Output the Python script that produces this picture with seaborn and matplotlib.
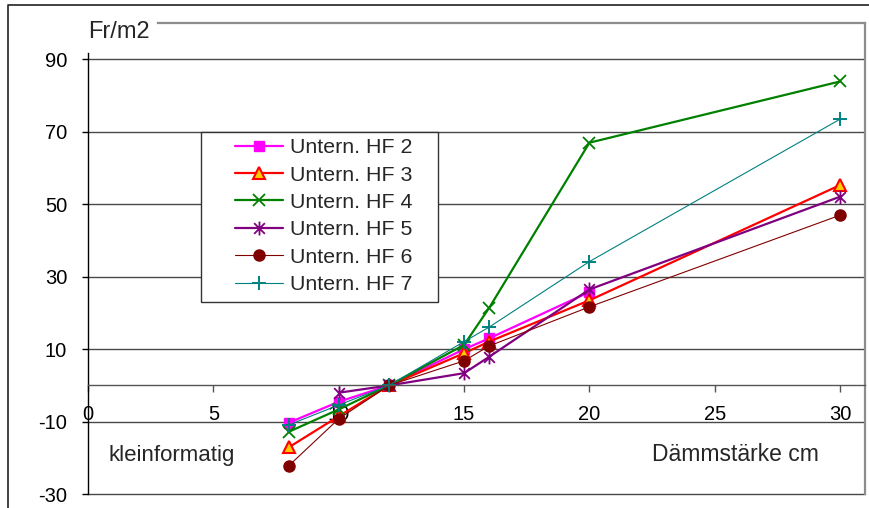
import numpy as np
import matplotlib
matplotlib.use("Agg")
import matplotlib.pyplot as plt
from matplotlib.lines import Line2D
from matplotlib.patches import Rectangle
from matplotlib.path import Path
import seaborn as sns

# Insulation thickness (cm) and cost difference per m2 for each variant
thickness = [8, 10, 12, 15, 16, 20, 30]
hf2 = [-10.3, -4.5, 0, 10.0, 13.0, 25.8, np.nan]
hf3 = [-17.1, -8.5, 0, 8.9, 12.1, 23.5, 55.3]
hf4 = [-12.8, -6.6, 0, 11.2, 21.4, 67.0, 83.9]
hf5 = [np.nan, -2.0, 0, 3.4, 7.9, 26.5, 52.1]
hf6 = [-22.2, -9.2, 0, 6.8, 10.9, 21.7, 47.0]
hf7 = [-10.9, -5.4, 0, 12.1, 16.1, 34.2, 73.5]

labels = ["Untern. HF 2", "Untern. HF 3", "Untern. HF 4",
          "Untern. HF 5", "Untern. HF 6", "Untern. HF 7"]
x_ticks = [0, 5, 10, 15, 20, 25, 30]
y_ticks = [-30, -10, 10, 30, 50, 70, 90]

sns.set_style("white")
plt.rcParams["font.family"] = ["Liberation Sans", "DejaVu Sans"]
plt.rcParams["axes.unicode_minus"] = False

W, H = 869, 508
fig = plt.figure(figsize=(W / 100, H / 100), dpi=100)
ax = fig.add_axes([88 / W, 1 - 494.2 / H, (865.2 - 88) / W, (494.2 - 23.1) / H])

# asterisk marker: an "x" with a vertical bar
star = Path([(-1, -1), (1, 1), (-1, 1), (1, -1), (0, -1.3), (0, 1.3)],
            [Path.MOVETO, Path.LINETO] * 3)

styles = [
    dict(color="#FF00FF", lw=1.6, marker="s", markersize=7,
         markerfacecolor="#FF00FF", markeredgecolor="#FF00FF", markeredgewidth=1),
    dict(color="#FF0000", lw=1.6, marker="^", markersize=9,
         markerfacecolor="#FFCC00", markeredgecolor="#FF0000", markeredgewidth=1.5),
    dict(color="#008000", lw=1.6, marker="x", markersize=8,
         markerfacecolor="#008000", markeredgecolor="#008000", markeredgewidth=1.3),
    dict(color="#800080", lw=1.6, marker=star, markersize=10,
         markerfacecolor="#800080", markeredgecolor="#800080", markeredgewidth=1.3),
    dict(color="#800000", lw=0.8, marker="o", markersize=8,
         markerfacecolor="#800000", markeredgecolor="#800000", markeredgewidth=1),
    dict(color="#008080", lw=0.8, marker="+", markersize=10,
         markerfacecolor="#008080", markeredgecolor="#008080", markeredgewidth=1.4),
]

for vals, lab, st in zip([hf2, hf3, hf4, hf5, hf6, hf7], labels, styles):
    sns.lineplot(x=thickness, y=vals, ax=ax, label=lab, legend=False,
                 errorbar=None, **st)

ax.set_xlim(0, 31)
ax.set_ylim(-30, 100)
ax.set_xticks(x_ticks)
ax.set_yticks(y_ticks)
ax.set_xlabel("")
ax.set_ylabel("")

# horizontal grid
ax.grid(axis="y", color="#484848", lw=1.0)
ax.grid(axis="x", visible=False)
for gl in ax.get_ygridlines():
    gl.set_clip_on(False)

# category axis sits at zero
ax.spines["bottom"].set_position(("data", 0))
ax.spines["bottom"].set_color("#555555")
ax.spines["bottom"].set_linewidth(1.0)
ax.spines["left"].set_color("black")
ax.spines["left"].set_linewidth(1.0)
ax.spines["left"].set_bounds(-30, 91.8)
ax.spines["right"].set_color("#8c8c8c")
ax.spines["right"].set_linewidth(1.6)
ax.spines["top"].set_color("#8c8c8c")
ax.spines["top"].set_linewidth(1.6)
ax.spines["top"].set_bounds(2.8, 31)

ax.tick_params(axis="x", direction="out", length=5, width=1.0, color="#555555",
               pad=9, labelsize=14.5, labelcolor="black", bottom=True)
ax.tick_params(axis="y", direction="out", length=4, width=1.0, color="black",
               pad=11, labelsize=14.5, labelcolor="black", left=True)

ax.text(0, 95.8, "Fr/m2", fontsize=17, va="baseline", ha="left", clip_on=False)
ax.text(0.8, -20.8, "kleinformatig", fontsize=16, va="baseline", ha="left")
ax.text(22.5, -20.8, "Dämmstärke cm", fontsize=16.5, va="baseline", ha="left")

# legend box
fig.add_artist(Rectangle((201 / W, 1 - 301.7 / H), (438 - 201) / W, (301.7 - 131.7) / H,
                         transform=fig.transFigure, facecolor="white",
                         edgecolor="#333333", lw=1.0, zorder=3))
handles, labs = ax.get_legend_handles_labels()
leg = fig.legend(handles, labs, loc="upper left",
                 bbox_to_anchor=(235 / W, 1 - 138.3 / H),
                 bbox_transform=fig.transFigure, frameon=False,
                 borderpad=0, borderaxespad=0, handlelength=2.25,
                 handletextpad=0.33, labelspacing=0.39, fontsize=15.4,
                 numpoints=1)
leg.set_zorder(4)

# outer chart border
fig.add_artist(Line2D([8 / W, 8 / W, 1.0], [0, 1 - 5.3 / H, 1 - 5.3 / H],
                      transform=fig.transFigure, color="#222222", lw=1.2))

fig.savefig("out.png", dpi=100)
